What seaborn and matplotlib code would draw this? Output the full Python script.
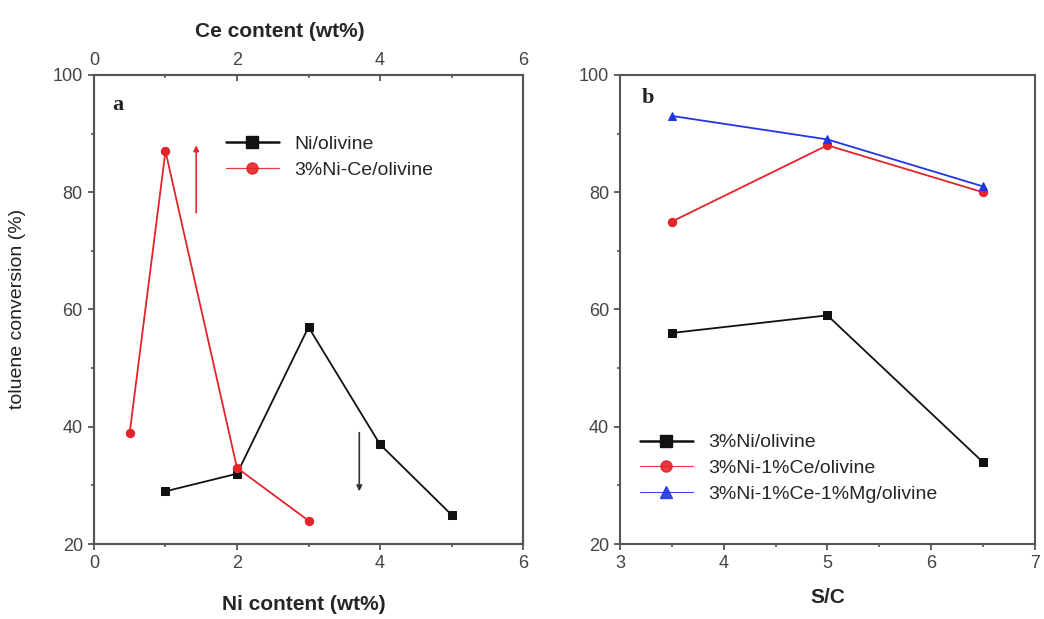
import matplotlib
matplotlib.use("Agg")
import matplotlib.pyplot as plt
import pandas as pd
import seaborn as sns
from matplotlib.lines import Line2D
from matplotlib.ticker import MultipleLocator

# (a) toluene conversion vs. metal loading
ni_content = [1, 2, 3, 4, 5]
ni_conversion = [29, 32, 57, 37, 25]
ce_content = [0.5, 1, 2, 3]
ce_conversion = [39, 87, 33, 24]

# (b) toluene conversion vs. steam-to-carbon ratio
sc_ratio = [3.5, 5, 6.5]
conv_ni = [56, 59, 34]
conv_ni_ce = [75, 88, 80]
conv_ni_ce_mg = [93, 89, 81]

labels_a = ["Ni/olivine", "3%Ni-Ce/olivine"]
labels_b = ["3%Ni/olivine", "3%Ni-1%Ce/olivine", "3%Ni-1%Ce-1%Mg/olivine"]

BLACK = "#111111"
RED = "#e3242b"
BLUE = "#2236e0"
SPINE = "#555555"
TICKTXT = "#444444"

sns.set_theme(style="ticks")
plt.rcParams["font.family"] = ["Liberation Sans", "DejaVu Sans"]

fig = plt.figure(figsize=(10.44, 6.19), dpi=100)
ax1 = fig.add_axes([0.090, 0.121, 0.411, 0.758])
ax2 = fig.add_axes([0.594, 0.121, 0.397, 0.758])


def style_axis(ax):
    for s in ax.spines.values():
        s.set_color(SPINE)
        s.set_linewidth(1.5)
    ax.tick_params(axis="both", which="major", direction="out", length=4,
                   width=1.3, color=SPINE, labelcolor=TICKTXT, labelsize=13, pad=4)
    ax.tick_params(axis="both", which="minor", direction="out", length=2.5,
                   width=1.2, color=SPINE)


# ---------- panel a ----------
df_ni = pd.DataFrame({"x": ni_content, "y": ni_conversion})
sns.lineplot(data=df_ni, x="x", y="y", ax=ax1, color=BLACK, lw=1.3,
             marker="s", markersize=6, markeredgecolor=BLACK, sort=False)
ax1.set_xlim(0, 6)
ax1.set_ylim(20, 100)
ax1.xaxis.set_major_locator(MultipleLocator(2))
ax1.xaxis.set_minor_locator(MultipleLocator(1))
ax1.yaxis.set_major_locator(MultipleLocator(20))
ax1.yaxis.set_minor_locator(MultipleLocator(10))
style_axis(ax1)
ax1.set_xlabel("Ni content (wt%)", fontsize=15, fontweight="bold")
ax1.xaxis.set_label_coords(0.49, -0.108)
ax1.set_ylabel("")

ax1t = ax1.twiny()
df_ce = pd.DataFrame({"x": ce_content, "y": ce_conversion})
sns.lineplot(data=df_ce, x="x", y="y", ax=ax1t, color=RED, lw=1.3,
             marker="o", markersize=6, markeredgecolor=RED, sort=False)
ax1t.set_xlim(0, 6)
ax1t.set_ylim(20, 100)
ax1t.xaxis.set_major_locator(MultipleLocator(2))
ax1t.xaxis.set_minor_locator(MultipleLocator(1))
style_axis(ax1t)
ax1t.tick_params(axis="x", which="both", direction="in")
ax1t.set_xlabel("Ce content (wt%)", fontsize=15, fontweight="bold")
ax1t.xaxis.set_label_coords(0.434, 1.08)
ax1t.set_ylabel("")

ax1t.annotate("", xy=(1.43, 88), xytext=(1.43, 76.5),
              arrowprops=dict(arrowstyle="-|>", color=RED, lw=1.2,
                              mutation_scale=8, shrinkA=0, shrinkB=0))
ax1t.annotate("", xy=(3.71, 29), xytext=(3.71, 39),
              arrowprops=dict(arrowstyle="-|>", color="#333333", lw=1.2,
                              mutation_scale=8, shrinkA=0, shrinkB=0))

ax1.text(0.056, 0.936, "a", transform=ax1.transAxes, fontsize=16,
         fontweight="bold", family="Liberation Serif", va="center", ha="center",
         color="#222222")

handles_a = [
    Line2D([], [], color=BLACK, lw=1.8, marker="s", markersize=8),
    Line2D([], [], color=RED, lw=0.9, marker="o", markersize=8, alpha=0.9),
]
ax1t.legend(handles_a, labels_a, loc="upper left", bbox_to_anchor=(0.308, 0.872),
            frameon=False, fontsize=14, handlelength=2.7, handletextpad=0.8,
            labelspacing=0.45, borderpad=0, borderaxespad=0)

fig.text(18 / 1044, 1 - 309 / 619, "toluene conversion (%)", rotation=90,
         fontsize=14, ha="center", va="center", color="#222222")

# ---------- panel b ----------
series_b = [conv_ni, conv_ni_ce, conv_ni_ce_mg]
colors_b = [BLACK, RED, BLUE]
markers_b = ["s", "o", "^"]
for vals, col, mk in zip(series_b, colors_b, markers_b):
    df = pd.DataFrame({"x": sc_ratio, "y": vals})
    sns.lineplot(data=df, x="x", y="y", ax=ax2, color=col, lw=1.3, marker=mk,
                 markersize=6, markeredgecolor=col, sort=False)
ax2.set_xlim(3, 7)
ax2.set_ylim(20, 100)
ax2.xaxis.set_major_locator(MultipleLocator(1))
ax2.xaxis.set_minor_locator(MultipleLocator(0.5))
ax2.yaxis.set_major_locator(MultipleLocator(20))
ax2.yaxis.set_minor_locator(MultipleLocator(10))
style_axis(ax2)
ax2.set_xlabel("S/C", fontsize=15, fontweight="bold")
ax2.xaxis.set_label_coords(0.5, -0.094)
ax2.set_ylabel("")

ax2.text(0.068, 0.951, "b", transform=ax2.transAxes, fontsize=16,
         fontweight="bold", family="Liberation Serif", va="center", ha="center",
         color="#222222")

handles_b = [
    Line2D([], [], color=BLACK, lw=1.8, marker="s", markersize=8),
    Line2D([], [], color=RED, lw=0.8, marker="o", markersize=8, alpha=0.9),
    Line2D([], [], color=BLUE, lw=0.8, marker="^", markersize=8, alpha=0.9),
]
ax2.legend(handles_b, labels_b, loc="upper left", bbox_to_anchor=(0.048, 0.235),
           frameon=False, fontsize=14, handlelength=2.7, handletextpad=0.8,
           labelspacing=0.42, borderpad=0, borderaxespad=0)

fig.savefig("out.png", dpi=100, facecolor="white")
